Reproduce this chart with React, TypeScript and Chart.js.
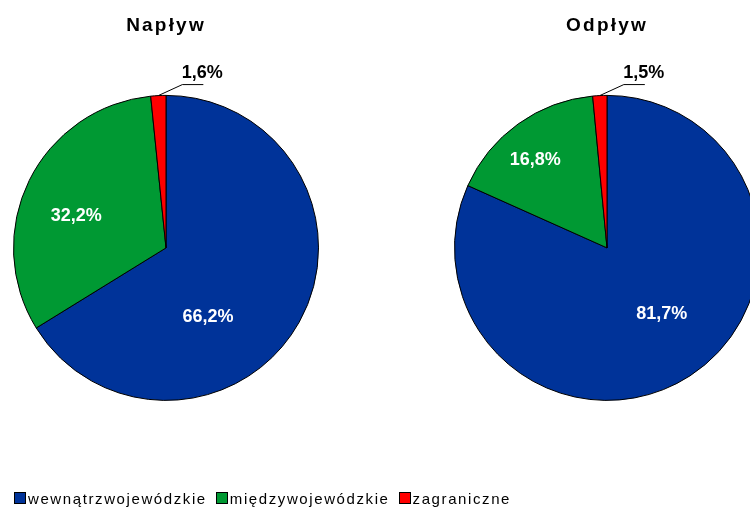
import React, { useEffect, useRef } from 'react';
import { Chart, registerables } from 'chart.js';

Chart.register(...registerables);

const categories = ['wewnątrzwojewódzkie', 'międzywojewódzkie', 'zagraniczne'];
const chartTitles = ['Napływ', 'Odpływ'];
const naplywValues = [66.2, 32.2, 1.6];
const odplywValues = [81.7, 16.8, 1.5];

const sliceColors = ['#003399', '#009933', '#FF0000'];
const FONT = '"Liberation Sans", Arial, sans-serif';

const fmt = (v: number) => v.toFixed(1).replace('.', ',') + '%';

type PieProps = {
  title: string;
  values: number[];
  insideOffsets: [number, number][]; // fraction of radius
  canvasLeft: number;
  canvasWidth: number;
  padLeft: number;
  padRight: number;
};

function PieChart({ title, values, insideOffsets, canvasLeft, canvasWidth, padLeft, padRight }: PieProps) {
  const ref = useRef<HTMLCanvasElement | null>(null);
  useEffect(() => {
    if (!ref.current) return;
    const labelPlugin = {
      id: 'pieLabels',
      beforeDraw(chart: any) {
        chart.ctx.letterSpacing = '2.2px';
      },
      beforeDatasetsDraw(chart: any) {
        chart.ctx.letterSpacing = '0px';
      },
      afterDatasetsDraw(chart: any) {
        const ctx = chart.ctx as CanvasRenderingContext2D;
        const meta = chart.getDatasetMeta(0);
        ctx.save();
        ctx.letterSpacing = '0px';
        ctx.font = `bold 18px ${FONT}`;
        ctx.textAlign = 'center';
        ctx.textBaseline = 'middle';
        meta.data.forEach((arc: any, i: number) => {
          const { x, y, outerRadius, startAngle, endAngle } = arc.getProps(
            ['x', 'y', 'outerRadius', 'startAngle', 'endAngle'],
            true
          );
          const text = fmt(values[i]);
          if (i < insideOffsets.length) {
            const [fx, fy] = insideOffsets[i];
            ctx.fillStyle = '#FFFFFF';
            ctx.fillText(text, x + fx * outerRadius, y + fy * outerRadius);
          } else {
            const mid = (startAngle + endAngle) / 2;
            const sx = x + Math.cos(mid) * outerRadius;
            const sy = y + Math.sin(mid) * outerRadius;
            const bx = sx + 24;
            const by = sy - 11;
            const ex = bx + 21;
            ctx.strokeStyle = '#000000';
            ctx.lineWidth = 1;
            ctx.beginPath();
            ctx.moveTo(sx, sy);
            ctx.lineTo(bx, by);
            ctx.lineTo(ex, by);
            ctx.stroke();
            ctx.fillStyle = '#000000';
            ctx.fillText(text, ex - 1, by - 12);
          }
        });
        ctx.restore();
      },
    };
    const chart = new Chart(ref.current, {
      type: 'pie',
      data: {
        labels: categories,
        datasets: [
          {
            data: values,
            backgroundColor: sliceColors,
            borderColor: '#000000',
            borderWidth: 1,
          },
        ],
      },
      options: {
        responsive: false,
        devicePixelRatio: 1,
        animation: false,
        layout: { padding: { left: padLeft, right: padRight, top: 0, bottom: 74 } },
        plugins: {
          legend: { display: false },
          tooltip: { enabled: false },
          title: {
            display: true,
            text: title,
            color: '#000000',
            font: { family: FONT, size: 19, weight: 'bold' },
            padding: { top: 14, bottom: 23 },
          },
        },
      },
      plugins: [labelPlugin],
    } as any);
    return () => chart.destroy();
  }, []);
  return (
    <canvas
      ref={ref}
      width={canvasWidth}
      height={510}
      style={{ position: 'absolute', left: canvasLeft, top: 0, width: canvasWidth, height: 510 }}
    />
  );
}

export default function App() {
  const legendItems = categories.map((c, i) => (
    <span key={c} style={{ display: 'inline-flex', alignItems: 'center', marginRight: 9 }}>
      <span
        style={{
          display: 'inline-block',
          width: 12,
          height: 12,
          boxSizing: 'border-box',
          border: '1px solid #000',
          background: sliceColors[i],
          marginRight: 2,
        }}
      />
      <span style={{ letterSpacing: '1.6px' }}>{c}</span>
    </span>
  ));
  return (
    <div
      style={{
        position: 'fixed',
        left: 0,
        top: 0,
        width: 750,
        height: 510,
        overflow: 'hidden',
        background: '#FFFFFF',
      }}
    >
      <PieChart
        title={chartTitles[0]}
        values={naplywValues}
        insideOffsets={[
          [0.275, 0.451],
          [-0.588, -0.206],
        ]}
        canvasLeft={0}
        canvasWidth={380}
        padLeft={13}
        padRight={61}
      />
      <PieChart
        title={chartTitles[1]}
        values={odplywValues}
        insideOffsets={[
          [0.359, 0.435],
          [-0.47, -0.575],
        ]}
        canvasLeft={380}
        canvasWidth={420}
        padLeft={74}
        padRight={40}
      />
      <div
        style={{
          position: 'absolute',
          left: 14,
          top: 489,
          height: 18,
          display: 'flex',
          alignItems: 'center',
          fontFamily: FONT,
          fontSize: 15,
          color: '#000',
          whiteSpace: 'nowrap',
        }}
      >
        {legendItems}
      </div>
    </div>
  );
}
